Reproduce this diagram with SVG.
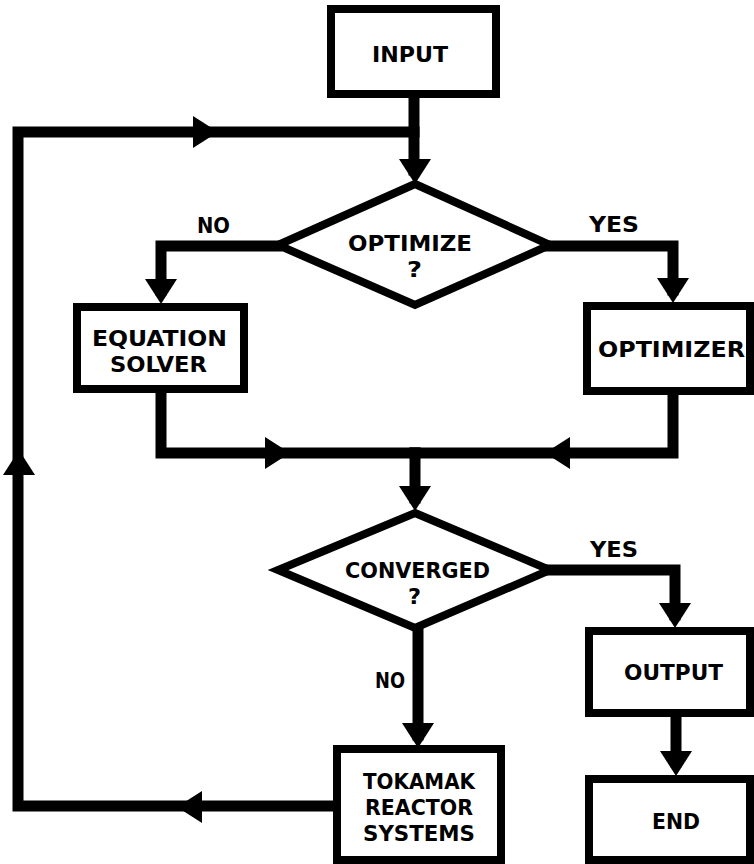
<svg xmlns="http://www.w3.org/2000/svg" xmlns:xlink="http://www.w3.org/1999/xlink" width="754" height="864" viewBox="0 0 754 864">
<style>
.box{fill:#fff;stroke:#000;stroke-width:8;stroke-linejoin:miter}
.dia{fill:#fff;stroke:#000;stroke-width:8;stroke-linejoin:miter}
.ln{fill:none;stroke:#000;stroke-width:11;stroke-linejoin:miter;stroke-linecap:square}
.ah{fill:#000}
text{font-family:"DejaVu Sans Condensed","DejaVu Sans","Liberation Sans",sans-serif;font-weight:bold;font-size:22px;fill:#000}
</style>
<defs>
<path id="ah" d="M0,0 L-16,-25 L16,-25 Z"/>
</defs>
<rect width="754" height="864" fill="#fff"/>
<g id="connectors">
<polyline class="ln" points="414,98 414,170"/>
<polyline class="ln" points="333,806 18,806 18,132 414,132"/>
<polyline class="ln" points="277,246 161,246 161,290"/>
<polyline class="ln" points="550,246 673,246 673,290"/>
<polyline class="ln" points="161,392 161,453 415,453"/>
<polyline class="ln" points="673,395 673,453 415,453"/>
<polyline class="ln" points="415,453 415,498"/>
<polyline class="ln" points="550,570 675,570 675,615"/>
<polyline class="ln" points="418,628 418,735"/>
<polyline class="ln" points="676,717 676,762"/>
<use href="#ah" class="ah" transform="translate(415,184)"/>
<use href="#ah" class="ah" transform="translate(161,304)"/>
<use href="#ah" class="ah" transform="translate(673,303)"/>
<use href="#ah" class="ah" transform="translate(415,511)"/>
<use href="#ah" class="ah" transform="translate(675,628)"/>
<use href="#ah" class="ah" transform="translate(418,748)"/>
<use href="#ah" class="ah" transform="translate(676,776)"/>
<use href="#ah" class="ah" transform="translate(218,132) rotate(-90)"/>
<use href="#ah" class="ah" transform="translate(290,453) rotate(-90)"/>
<use href="#ah" class="ah" transform="translate(545,453) rotate(90)"/>
<use href="#ah" class="ah" transform="translate(177,807) rotate(90)"/>
<use href="#ah" class="ah" transform="translate(19,450) rotate(180)"/>
</g>
<g id="label-no-1"><text x="197" y="233" textLength="33" lengthAdjust="spacingAndGlyphs">NO</text></g>
<g id="label-yes-1"><text x="589" y="232" textLength="50" lengthAdjust="spacingAndGlyphs">YES</text></g>
<g id="label-yes-2"><text x="590" y="557" textLength="48" lengthAdjust="spacingAndGlyphs">YES</text></g>
<g id="label-no-2"><text x="375" y="688" textLength="30" lengthAdjust="spacingAndGlyphs">NO</text></g>
<g id="input">
<rect class="box" x="331" y="9" width="165" height="85"/>
<text x="372" y="62" textLength="76" lengthAdjust="spacingAndGlyphs">INPUT</text>
</g>
<g id="optimize">
<polygon class="dia" points="415,184 550,245 415,305 278,245"/>
<text x="348" y="251" textLength="124" lengthAdjust="spacingAndGlyphs">OPTIMIZE</text>
<text x="407" y="277" textLength="15" lengthAdjust="spacingAndGlyphs">?</text>
</g>
<g id="equation-solver">
<rect class="box" x="77" y="307" width="167" height="82"/>
<text x="92" y="346" textLength="135" lengthAdjust="spacingAndGlyphs">EQUATION</text>
<text x="110" y="372" textLength="97" lengthAdjust="spacingAndGlyphs">SOLVER</text>
</g>
<g id="optimizer">
<rect class="box" x="587" y="306" width="163" height="85"/>
<text x="598" y="357" textLength="147" lengthAdjust="spacingAndGlyphs">OPTIMIZER</text>
</g>
<g id="converged">
<polygon class="dia" points="415,513 550,570 415,628 278,570"/>
<text x="345" y="578" textLength="145" lengthAdjust="spacingAndGlyphs">CONVERGED</text>
<text x="408" y="604" textLength="13" lengthAdjust="spacingAndGlyphs">?</text>
</g>
<g id="output">
<rect class="box" x="589" y="631" width="161" height="82"/>
<text x="624" y="680" textLength="99" lengthAdjust="spacingAndGlyphs">OUTPUT</text>
</g>
<g id="end">
<rect class="box" x="589" y="779" width="161" height="81"/>
<text x="652" y="829" textLength="48" lengthAdjust="spacingAndGlyphs">END</text>
</g>
<g id="tokamak">
<rect class="box" x="337" y="749" width="164" height="111"/>
<text x="363" y="789" textLength="112" lengthAdjust="spacingAndGlyphs">TOKAMAK</text>
<text x="365" y="815" textLength="108" lengthAdjust="spacingAndGlyphs">REACTOR</text>
<text x="363" y="841" textLength="112" lengthAdjust="spacingAndGlyphs">SYSTEMS</text>
</g>
</svg>
